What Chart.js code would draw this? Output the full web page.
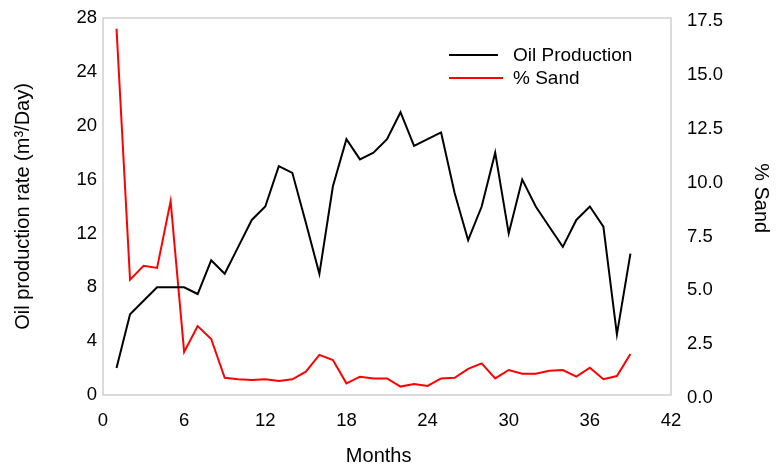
<!DOCTYPE html>
<html>
<head>
<meta charset="utf-8">
<script src="https://cdn.jsdelivr.net/npm/chart.js@4"></script>
<style>
  body { margin: 0; background: #fff; }
  #wrap { width: 776px; height: 470px; position: relative; }
</style>
</head>
<body>
<div id="wrap"><canvas id="grafico"></canvas></div>
<script>
// dados
const meses = [1, 2, 3, 4, 5, 6, 7, 8, 9, 10, 11, 12, 13, 14, 15, 16, 17, 18, 19, 20,
    21, 22, 23, 24, 25, 26, 27, 28, 29, 30, 31, 32, 33, 34, 35, 36, 37, 38, 39];
const producaoOleo = [2, 6, 7, 8, 8, 8, 7.5, 10, 9, 11, 13, 14, 17, 16.5, 12.8, 9, 15.5, 19, 17.5, 18,
    19, 21, 18.5, 19, 19.5, 15, 11.5, 14, 18, 12, 16, 14, 12.5, 11, 13, 14, 12.5, 4.5, 10.5];
const percAreia = [17.0, 5.35, 6.0, 5.9, 9.0, 2.0, 3.2, 2.6, 0.8, 0.73, 0.7, 0.73, 0.65, 0.73, 1.08, 1.86, 1.62, 0.54, 0.85, 0.77,
    0.77, 0.39, 0.51, 0.42, 0.77, 0.8, 1.21, 1.47, 0.77, 1.16, 0.99, 0.99, 1.13, 1.16, 0.85, 1.27, 0.73, 0.88, 1.9];
const ticksMeses = [0, 6, 12, 18, 24, 30, 36, 42];

const fonte = { family: "'Liberation Sans', Arial, sans-serif", size: 18.5 };
const fonteTitulo = { family: "'Liberation Sans', Arial, sans-serif", size: 20 };

// moldura cinza em volta da área do gráfico
const moldura = {
    id: 'moldura',
    beforeDatasetsDraw(chart) {
        const { ctx, chartArea: a } = chart;
        ctx.save();
        ctx.strokeStyle = '#d0d0d0';
        ctx.lineWidth = 1.5;
        ctx.strokeRect(a.left, a.top, a.right - a.left, a.bottom - a.top);
        ctx.restore();
    }
};

// legenda desenhada dentro da área do gráfico
const legendaInterna = {
    id: 'legendaInterna',
    afterDraw(chart) {
        const ctx = chart.ctx;
        ctx.save();
        ctx.font = "19px 'Liberation Sans', Arial, sans-serif";
        ctx.textBaseline = 'middle';
        const comprimentos = [49, 54];
        chart.data.datasets.forEach((ds, i) => {
            const y = 55 + i * 23;
            ctx.strokeStyle = ds.borderColor;
            ctx.lineWidth = 2;
            ctx.beginPath();
            ctx.moveTo(449, y);
            ctx.lineTo(449 + comprimentos[i], y);
            ctx.stroke();
            ctx.fillStyle = '#000';
            ctx.fillText(ds.label, 513, y + 1);
        });
        ctx.restore();
    }
};

// tira o espaço extra que as escalas pedem para os rótulos das pontas
function semPadding(s) {
    s.paddingTop = 0;
    s.paddingBottom = 0;
    s.paddingLeft = 0;
    s.paddingRight = 0;
}

new Chart(document.getElementById('grafico'), {
    type: 'line',
    data: {
        datasets: [{
            label: 'Oil Production',
            data: meses.map((m, i) => ({ x: m, y: producaoOleo[i] })),
            borderColor: '#000000',
            borderWidth: 2,
            pointRadius: 0,
            tension: 0,
            yAxisID: 'y',
        }, {
            label: '% Sand',
            data: meses.map((m, i) => ({ x: m, y: percAreia[i] })),
            borderColor: '#ff0000',
            borderWidth: 2,
            pointRadius: 0,
            tension: 0,
            yAxisID: 'y1',
        }]
    },
    options: {
        responsive: true,
        maintainAspectRatio: false,
        animation: false,
        layout: { padding: { top: 18, left: 0, right: 0, bottom: 0 } },
        plugins: {
            legend: { display: false },
            tooltip: { enabled: false },
        },
        scales: {
            x: {
                type: 'linear',
                min: 0,
                max: 42,
                afterBuildTicks: (s) => { s.ticks = ticksMeses.map(v => ({ value: v })); },
                afterFit: (s) => { s.height = 75; semPadding(s); },
                grid: { display: false, drawTicks: false },
                border: { display: false },
                ticks: { color: '#000', font: fonte, padding: 15, maxRotation: 0 },
                title: { display: true, text: 'Months   ', color: '#000', font: fonteTitulo, padding: { top: 0, bottom: 2 } },
            },
            y: {
                position: 'left',
                min: 0,
                max: 28,
                afterFit: (s) => { s.width = 103; semPadding(s); },
                grid: { display: false, drawTicks: false },
                border: { display: false },
                ticks: { stepSize: 4, color: '#000', font: fonte, padding: 6 },
                title: { display: true, text: 'Oil production rate (m³/Day)', color: '#000', font: fonteTitulo, padding: { top: 11, bottom: 0 } },
            },
            y1: {
                position: 'right',
                min: 0,
                max: 17.5,
                afterFit: (s) => { s.width = 105; semPadding(s); },
                grid: { display: false, drawTicks: false },
                border: { display: false },
                ticks: {
                    stepSize: 2.5, color: '#000', font: fonte, padding: 16, labelOffset: 3,
                    callback: (v) => v.toFixed(1)
                },
                title: { display: true, text: '% Sand   ', color: '#000', font: fonteTitulo, padding: { top: 3, bottom: 0 } },
            },
        }
    },
    plugins: [moldura, legendaInterna]
});
</script>
</body>
</html>
